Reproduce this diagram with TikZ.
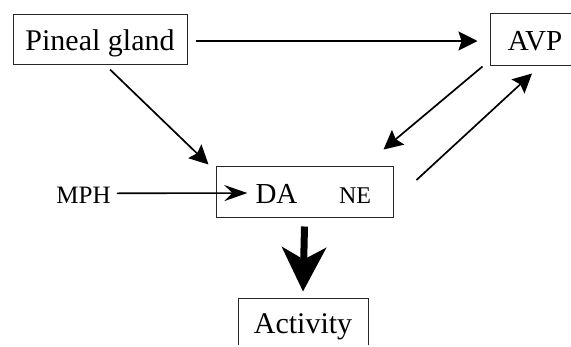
\documentclass[tikz,border=0pt]{standalone}
\usepackage{fontspec}
\setmainfont{Liberation Serif}
\usetikzlibrary{arrows.meta}
\begin{document}
\begin{tikzpicture}[x=1pt,y=-1pt,
  boxnode/.style={draw=black!85,line width=1pt,inner sep=0pt,text depth=0pt},
  txt/.style={inner sep=0pt,anchor=base},
  conn/.style={line width=1.7pt,-{Stealth[length=19pt,width=19pt,inset=3pt]}},
  thin conn/.style={line width=1.6pt,-{Stealth[length=23pt,width=16pt,inset=8pt]}},
  big/.style={line width=7pt,-{Stealth[length=44pt,width=44pt,inset=12pt]}}]
\useasboundingbox (0,0) rectangle (571,346);
\clip (0,0) rectangle (571,344);
\node[boxnode,minimum width=174pt,minimum height=50pt,text height=22pt,font=\fontsize{30}{34}\selectfont] (pg) at (100,39) {Pineal gland};
\node[boxnode,minimum width=90pt,minimum height=52pt,text height=22pt,font=\fontsize{29}{33}\selectfont] (avp) at (535,39) {AVP};
\node[boxnode,minimum width=177pt,minimum height=51pt] (da) at (304.5,191.5) {};
\node[txt,font=\fontsize{29}{33}\selectfont,text height=20pt] (dat) at (276.5,203) {DA};
\node[txt,font=\fontsize{24}{28}\selectfont] (net) at (355,203) {NE};
\node[txt,font=\fontsize{25}{29}\selectfont,text height=20pt] (mph) at (83.5,203.3) {MPH};
\node[boxnode,minimum width=130pt,minimum height=70pt,text height=10pt,text depth=10pt,font=\fontsize{30}{34}\selectfont] (act) at (303,333) {Activity};
\draw[conn] ([xshift=8pt,yshift=-2pt]pg.east) -- ([xshift=-12pt,yshift=-2pt]avp.west);
\draw[conn] ([xshift=10pt,yshift=-5pt]pg.south) -- ([xshift=-7pt,yshift=1pt]da.north west);
\draw[conn] ([xshift=-7pt,yshift=-1pt]avp.south west) -- ([xshift=-10pt,yshift=16pt]da.north east);
\draw[conn] ([xshift=23pt,yshift=11.5pt]da.east) -- ([xshift=-3pt,yshift=-8pt]avp.south);
\draw[thin conn] ([xshift=6pt]mph.east) -- ([xshift=-8pt]dat.west);
\draw[big] ([yshift=-9pt]da.south) -- ([yshift=6pt]act.north);
\end{tikzpicture}
\end{document}
